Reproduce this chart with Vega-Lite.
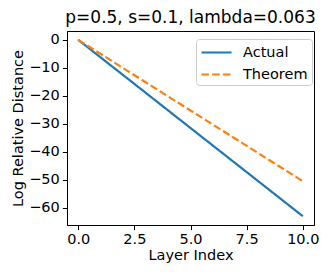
{
  "$schema": "https://vega.github.io/schema/vega-lite/v6.json",
  "width": 247,
  "height": 194,
  "autosize": {"type": "none"},
  "padding": {"left": 67, "top": 31, "right": 18, "bottom": 52},
  "background": "white",
  "config": {
    "font": "DejaVu Sans",
    "view": {"stroke": "black", "strokeWidth": 1},
    "axis": {
      "grid": false,
      "domainColor": "black",
      "tickColor": "black",
      "tickSize": 4.7,
      "tickWidth": 1,
      "labelFontSize": 14.5,
      "labelColor": "black",
      "labelPadding": 3,
      "titleFontSize": 14.5,
      "titleFontWeight": "normal",
      "titleColor": "black",
      "labelFont": "DejaVu Sans",
      "titleFont": "DejaVu Sans"
    }
  },
  "title": {
    "text": "p=0.5, s=0.1, lambda=0.063",
    "fontSize": 17,
    "fontWeight": "normal",
    "color": "black",
    "font": "DejaVu Sans",
    "anchor": "middle",
    "offset": 4
  },
  "data": {
    "values": [
      {"layer": 0, "value": 0, "series": "Actual"},
      {"layer": 1, "value": -6.3, "series": "Actual"},
      {"layer": 2, "value": -12.6, "series": "Actual"},
      {"layer": 3, "value": -18.9, "series": "Actual"},
      {"layer": 4, "value": -25.2, "series": "Actual"},
      {"layer": 5, "value": -31.5, "series": "Actual"},
      {"layer": 6, "value": -37.8, "series": "Actual"},
      {"layer": 7, "value": -44.1, "series": "Actual"},
      {"layer": 8, "value": -50.4, "series": "Actual"},
      {"layer": 9, "value": -56.7, "series": "Actual"},
      {"layer": 10, "value": -63.0, "series": "Actual"},
      {"layer": 0, "value": 0, "series": "Theorem"},
      {"layer": 1, "value": -5.05, "series": "Theorem"},
      {"layer": 2, "value": -10.1, "series": "Theorem"},
      {"layer": 3, "value": -15.15, "series": "Theorem"},
      {"layer": 4, "value": -20.2, "series": "Theorem"},
      {"layer": 5, "value": -25.25, "series": "Theorem"},
      {"layer": 6, "value": -30.3, "series": "Theorem"},
      {"layer": 7, "value": -35.35, "series": "Theorem"},
      {"layer": 8, "value": -40.4, "series": "Theorem"},
      {"layer": 9, "value": -45.45, "series": "Theorem"},
      {"layer": 10, "value": -50.5, "series": "Theorem"}
    ]
  },
  "mark": {"type": "line", "strokeWidth": 2.2, "clip": true},
  "encoding": {
    "x": {
      "field": "layer",
      "type": "quantitative",
      "title": "Layer Index",
      "scale": {"domain": [-0.5, 10.5], "nice": false, "zero": false},
      "axis": {"values": [0, 2.5, 5, 7.5, 10], "format": ".1f", "titlePadding": 2}
    },
    "y": {
      "field": "value",
      "type": "quantitative",
      "title": "Log Relative Distance",
      "scale": {"domain": [-66.15, 3.15], "nice": false, "zero": false},
      "axis": {
        "values": [0, -10, -20, -30, -40, -50, -60],
        "labelExpr": "replace(datum.label, '-', '\u2212')",
        "titlePadding": 3
      }
    },
    "color": {
      "field": "series",
      "type": "nominal",
      "scale": {"domain": ["Actual", "Theorem"], "range": ["#1f77b4", "#ff7f0e"]},
      "legend": {
        "title": null,
        "orient": "none",
        "legendX": 129,
        "legendY": 8,
        "fillColor": "white",
        "strokeColor": "#cccccc",
        "cornerRadius": 3,
        "padding": 4,
        "symbolType": "M-1,0H2.75",
        "symbolSize": 256,
        "symbolStrokeWidth": 2.2,
        "labelFontSize": 14.5,
        "labelColor": "black",
        "labelFont": "DejaVu Sans",
        "rowPadding": 6,
        "labelOffset": 24
      }
    },
    "strokeDash": {
      "field": "series",
      "type": "nominal",
      "scale": {"domain": ["Actual", "Theorem"], "range": [[1, 0], [7.5, 3.2]]},
      "legend": {
        "title": null,
        "orient": "none",
        "legendX": 129,
        "legendY": 8,
        "fillColor": "white",
        "strokeColor": "#cccccc",
        "cornerRadius": 3,
        "padding": 4,
        "symbolType": "M-1,0H2.75",
        "symbolSize": 256,
        "symbolStrokeWidth": 2.2,
        "labelFontSize": 14.5,
        "labelColor": "black",
        "labelFont": "DejaVu Sans",
        "rowPadding": 6,
        "labelOffset": 24
      }
    }
  }
}
